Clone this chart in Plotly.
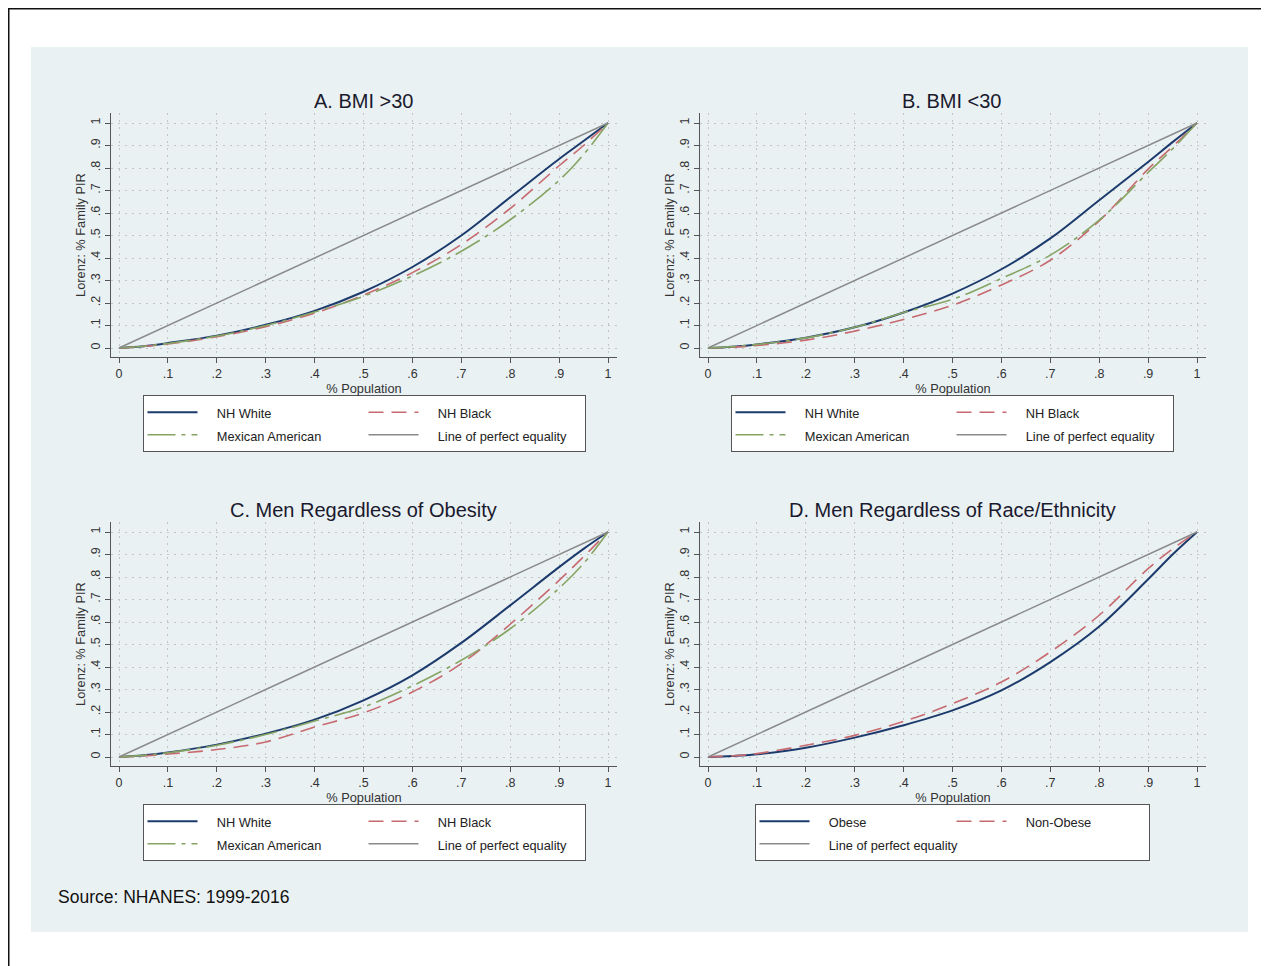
import plotly.graph_objects as go

# ---------------- data ----------------
x_pop = [0, .05, .1, .2, .3, .4, .5, .6, .7, .8, .9, .95, 1]
equality_x = [0, 1]
equality_y = [0, 1]

a_nh_white = [0, .008, .022, .055, .103, .165, .25, .36, .50, .67, .84, .92, 1]
a_nh_black = [0, .007, .018, .05, .095, .155, .235, .335, .46, .62, .81, .90, 1]
a_mex_am   = [0, .008, .02, .053, .10, .16, .23, .32, .43, .57, .745, .86, 1]

b_nh_white = [0, .006, .016, .046, .092, .158, .242, .35, .487, .657, .827, .915, 1]
b_nh_black = [0, .004, .011, .035, .075, .127, .19, .28, .39, .565, .795, .895, 1]
b_mex_am   = [0, .006, .016, .045, .092, .158, .216, .309, .413, .568, .78, .885, 1]

c_nh_white = [0, .008, .02, .055, .104, .166, .252, .363, .507, .674, .844, .925, 1]
c_nh_black = [0, .005, .013, .033, .067, .133, .196, .289, .415, .59, .785, .89, 1]
c_mex_am   = [0, .007, .019, .052, .10, .16, .222, .316, .43, .57, .75, .86, 1]

d_obese     = [0, .004, .012, .041, .086, .141, .207, .296, .422, .58, .79, .90, 1]
d_non_obese = [0, .005, .015, .052, .096, .158, .237, .333, .467, .63, .837, .925, 1]

tick_vals = [0, .1, .2, .3, .4, .5, .6, .7, .8, .9, 1]
tick_text = ["0", ".1", ".2", ".3", ".4", ".5", ".6", ".7", ".8", ".9", "1"]

panel_titles = ["A. BMI >30", "B. BMI <30",
                "C. Men Regardless of Obesity", "D. Men Regardless of Race/Ethnicity"]
x_title = "% Population"
y_title = "Lorenz: % Family PIR"
source_text = "Source: NHANES: 1999-2016"

# ---------------- styling ----------------
OFF = 8  # page body margin: figure starts at (8, 8) in the window
W, H = 1269 - OFF, 966 - OFF
FONT = "Arial, 'Liberation Sans', sans-serif"
NAVY = "#1c3b6c"
RED = "#c66a70"
GREEN = "#86a464"
GRAY = "#8a8a8a"
DASH_RED = "15px,8px"
DASH_GREEN = "28px,6px,4px,6px"


def px(v):
    return (v - OFF) / W


def py(v):
    return 1 - (v - OFF) / H


def leg_name(t):
    return '<span style="font-size:12.8px">\u00a0\u00a0\u00a0\u00a0' + t + '</span>'


fig = go.Figure()

# panel geometry in window pixels: (left, right, top, bottom)
panels = {
    1: (111, 617, 113, 357),
    2: (700, 1206, 113, 357),
    3: (111, 617, 522, 766),
    4: (700, 1206, 522, 766),
}
legend_pos = {1: (364, 395), 2: (952, 395), 3: (364, 804), 4: (952, 804)}
legend_entry = {1: 156, 2: 156, 3: 156, 4: 132}

series = {
    1: [("NH White", a_nh_white, NAVY, "solid", 2.0, "g1"),
        ("NH Black", a_nh_black, RED, DASH_RED, 1.6, "g2"),
        ("Mexican American", a_mex_am, GREEN, DASH_GREEN, 1.6, "g1")],
    2: [("NH White", b_nh_white, NAVY, "solid", 2.0, "g1"),
        ("NH Black", b_nh_black, RED, DASH_RED, 1.6, "g2"),
        ("Mexican American", b_mex_am, GREEN, DASH_GREEN, 1.6, "g1")],
    3: [("NH White", c_nh_white, NAVY, "solid", 2.0, "g1"),
        ("NH Black", c_nh_black, RED, DASH_RED, 1.6, "g2"),
        ("Mexican American", c_mex_am, GREEN, DASH_GREEN, 1.6, "g1")],
    4: [("Obese", d_obese, NAVY, "solid", 2.0, "g1"),
        ("Non-Obese", d_non_obese, RED, DASH_RED, 1.6, "g2")],
}
equality_group = {1: "g2", 2: "g2", 3: "g2", 4: "g1"}

for i in range(1, 5):
    sfx = "" if i == 1 else str(i)
    lg = "legend" if i == 1 else "legend%d" % i
    for name, vals, col, dash, w, grp in series[i]:
        fig.add_trace(go.Scatter(
            x=x_pop, y=vals, mode="lines", name=leg_name(name),
            line=dict(color=col, width=w, dash=dash, shape="spline", smoothing=1.0),
            xaxis="x" + sfx, yaxis="y" + sfx, legend=lg,
            legendgroup="p%d%s" % (i, grp), hoverinfo="skip"))
    fig.add_trace(go.Scatter(
        x=equality_x, y=equality_y, mode="lines", name=leg_name("Line of perfect equality"),
        line=dict(color=GRAY, width=1.5),
        xaxis="x" + sfx, yaxis="y" + sfx, legend=lg,
        legendgroup="p%d%s" % (i, equality_group[i]), hoverinfo="skip"))

layout = dict(
    width=W, height=H,
    margin=dict(l=0, r=0, t=0, b=0),
    paper_bgcolor="white",
    plot_bgcolor="white",
    font=dict(family=FONT, color="#222"),
    showlegend=True,
)

axis_common = dict(
    showline=True, linecolor="#555", linewidth=1,
    ticks="outside", ticklen=5, tickcolor="#555", tickwidth=1,
    showgrid=True, gridcolor="#c4c4c4", gridwidth=1, griddash="2px,5px",
    zeroline=False, tickfont=dict(size=12.5, color="#333", family=FONT),
    tickvals=tick_vals, ticktext=tick_text, automargin=False, fixedrange=True,
)

for i in range(1, 5):
    l, r, t, b = panels[i]
    sfx = "" if i == 1 else str(i)
    xa = dict(axis_common)
    xa.update(domain=[px(l), px(r)], range=[-8 / 489, 1 + 9 / 489],
              anchor="y" + sfx,
              title=dict(text=x_title, font=dict(size=12.8, color="#333"), standoff=0))
    ya = dict(axis_common)
    ya.update(domain=[py(b), py(t)], range=[-0.04, 1 + 10 / 225],
              anchor="x" + sfx, tickangle=-90,
              title=dict(text=y_title, font=dict(size=12.8, color="#333"), standoff=0))
    layout["xaxis" + sfx] = xa
    layout["yaxis" + sfx] = ya
    lx, ly = legend_pos[i]
    layout["legend" if i == 1 else "legend%d" % i] = dict(
        x=px(lx), xanchor="center", y=py(ly), yanchor="top",
        orientation="h", traceorder="grouped",
        bgcolor="white", bordercolor="#555", borderwidth=1,
        font=dict(size=15, family=FONT, color="#222"),
        itemwidth=50, entrywidth=legend_entry[i], entrywidthmode="pixels",
        itemclick=False, itemdoubleclick=False,
    )

fig.update_layout(**layout)

# background region and frame
fig.add_shape(type="rect", xref="paper", yref="paper",
              x0=px(31), x1=px(1248), y0=py(932), y1=py(47),
              fillcolor="#eaf1f3", line=dict(width=0), layer="below")
fig.add_shape(type="line", xref="paper", yref="paper",
              x0=px(8.75), x1=px(8.75), y0=py(8), y1=0,
              line=dict(color="#111", width=1.5))
fig.add_shape(type="line", xref="paper", yref="paper",
              x0=px(8), x1=1, y0=py(8.75), y1=py(8.75),
              line=dict(color="#111", width=1.5))

title_pos = [(363.5, 101), (952, 101), (363.5, 510), (952, 510)]
for (tx, ty), txt in zip(title_pos, panel_titles):
    fig.add_annotation(x=px(tx), y=py(ty), xref="paper", yref="paper",
                       text=txt, showarrow=False, xanchor="center", yanchor="middle",
                       font=dict(size=20, family=FONT, color="#1a1a2e"))

fig.add_annotation(x=px(56), y=py(897), xref="paper", yref="paper",
                   text=source_text, showarrow=False, xanchor="left", yanchor="middle",
                   font=dict(size=17.5, family=FONT, color="#111"))

fig.write_html("out.html")
